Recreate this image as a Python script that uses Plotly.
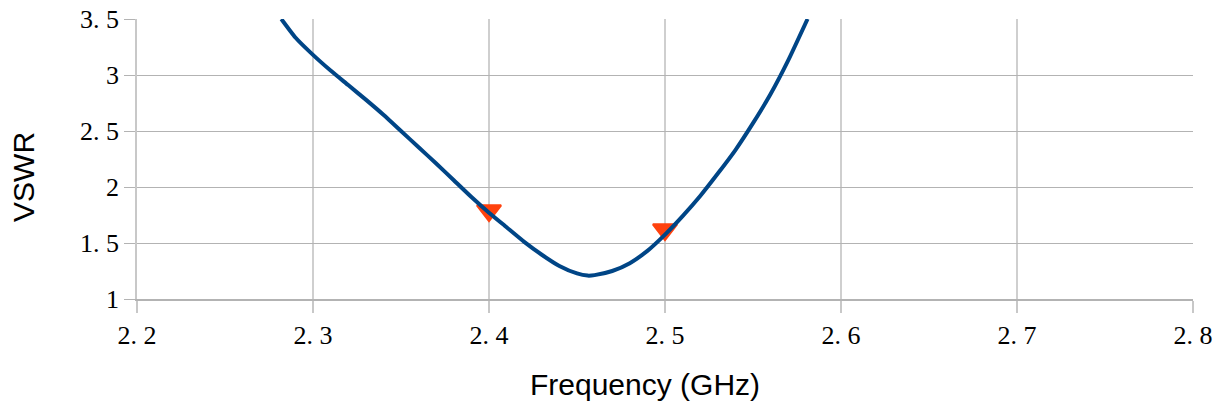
import plotly.graph_objects as go

# Curve data
freq = [2.282, 2.29, 2.30, 2.31, 2.32, 2.33, 2.34, 2.35, 2.36, 2.37, 2.38, 2.39,
        2.40, 2.41, 2.42, 2.43, 2.44, 2.45, 2.456, 2.46, 2.47, 2.48, 2.49, 2.50,
        2.51, 2.52, 2.53, 2.54, 2.55, 2.56, 2.57, 2.581]
vswr = [3.50, 3.335, 3.18, 3.04, 2.91, 2.78, 2.645, 2.50, 2.355, 2.21, 2.06, 1.91,
        1.77, 1.64, 1.51, 1.395, 1.295, 1.228, 1.209, 1.213, 1.25, 1.32, 1.43, 1.575,
        1.74, 1.92, 2.12, 2.33, 2.57, 2.83, 3.13, 3.50]

# Marker points
marker_freq = [2.40, 2.50]
marker_vswr = [1.79, 1.62]

x_ticks = [2.2, 2.3, 2.4, 2.5, 2.6, 2.7, 2.8]
x_tick_labels = ["2. 2", "2. 3", "2. 4", "2. 5", "2. 6", "2. 7", "2. 8"]
y_ticks = [1, 1.5, 2, 2.5, 3, 3.5]
y_tick_labels = ["1", "1. 5", "2", "2. 5", "3", "3. 5"]

fig = go.Figure()
fig.add_trace(go.Scatter(
    x=marker_freq, y=marker_vswr, mode="markers",
    marker=dict(symbol="triangle-down", size=21, color="#ff420e",
                line=dict(color="#ff420e", width=2)),
    showlegend=False, cliponaxis=False))
fig.add_trace(go.Scatter(
    x=freq, y=vswr, mode="lines",
    line=dict(color="#004586", width=4, shape="spline", smoothing=0.5),
    showlegend=False))

tick_font = dict(family="Liberation Serif", size=26, color="#000000")

fig.update_layout(
    width=1217, height=406,
    margin=dict(l=137, r=24, t=19, b=107, autoexpand=False),
    paper_bgcolor="white", plot_bgcolor="white",
    xaxis=dict(range=[2.2, 2.8], tickvals=x_ticks, ticktext=x_tick_labels,
               tickfont=tick_font, showgrid=True, gridcolor="#cfcfcf", gridwidth=1.5,
               ticks="outside", ticklen=12, tickcolor="#c8c8c8", tickwidth=1.5,
               showline=True, linecolor="#b3b3b3", linewidth=1.5, zeroline=False,
               automargin=False, ticklabeloverflow="allow"),
    yaxis=dict(range=[1, 3.5], tickvals=y_ticks, ticktext=y_tick_labels,
               tickfont=tick_font, showgrid=True, gridcolor="#b3b3b3", gridwidth=1,
               ticks="outside", ticklen=11, tickcolor="#b3b3b3", tickwidth=1,
               showline=True, linecolor="#c8c8c8", linewidth=1.5, zeroline=False,
               automargin=False, ticklabeloverflow="allow"),
    annotations=[
        dict(text="Frequency (GHz)", xref="paper", yref="paper", x=0.481, y=-0.3036,
             xanchor="center", yanchor="middle", showarrow=False,
             font=dict(family="Liberation Sans", size=30, color="#000000")),
        dict(text="VSWR", xref="paper", yref="paper", x=-0.107, y=0.436,
             xanchor="center", yanchor="middle", showarrow=False, textangle=-90,
             font=dict(family="Liberation Sans", size=30, color="#000000")),
    ],
)

# remove the page's default body margin so the figure fills the window exactly
fig.write_html("out.html", config={"displayModeBar": False},
               post_script="document.body.style.margin='0';")
